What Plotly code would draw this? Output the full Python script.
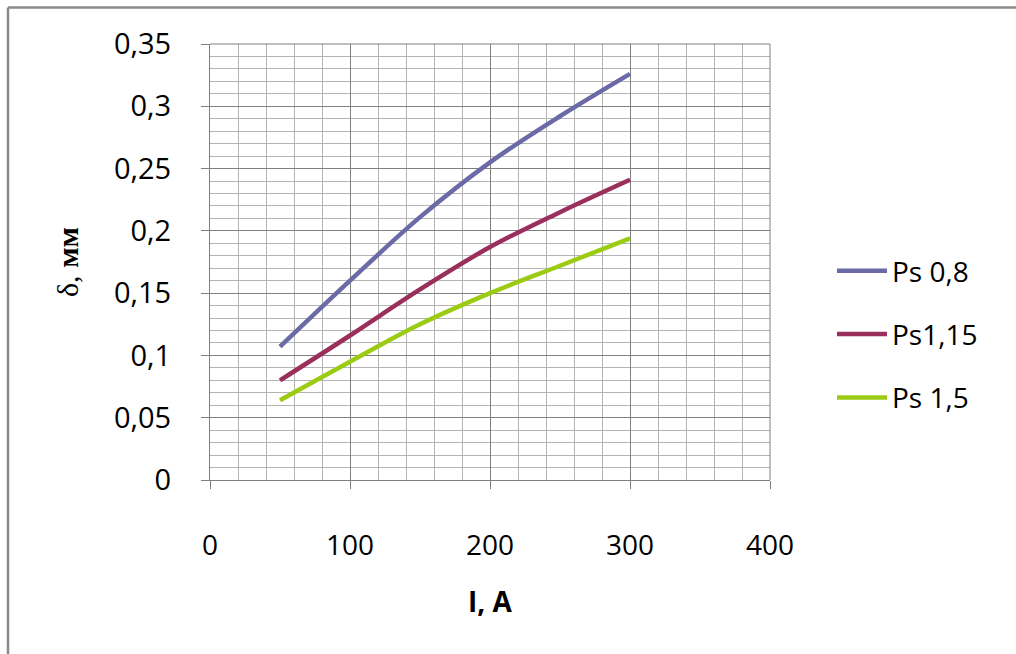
import plotly.graph_objects as go

current_A = [50, 100, 150, 200, 250, 300]
ps_08 = [0.107, 0.160, 0.211, 0.255, 0.292, 0.326]
ps_115 = [0.080, 0.116, 0.153, 0.187, 0.215, 0.241]
ps_15 = [0.064, 0.095, 0.125, 0.150, 0.172, 0.194]

series_names = ["Ps 0,8", "Ps1,15", "Ps 1,5"]
series_colors = ["#6A6AA6", "#9A2F5C", "#9CCB14"]
x_ticks = [0, 100, 200, 300, 400]
y_ticks = [0, 0.05, 0.1, 0.15, 0.2, 0.25, 0.3, 0.35]
y_tick_labels = ["0", "0,05", "0,1", "0,15", "0,2", "0,25", "0,3", "0,35"]

W, H = 1016, 654
L, R, T, B = 210, 246, 44, 174
pw, ph = W - L - R, H - T - B

fig = go.Figure()
for i, (name, ys, col) in enumerate(zip(series_names, [ps_08, ps_115, ps_15], series_colors)):
    fig.add_trace(go.Scatter(
        x=current_A, y=ys, mode="lines", name=name,
        line=dict(color=col, width=4.5, shape="spline", smoothing=1.0),
        legendgroup=f"g{i}",
    ))

def px2paper_x(p):
    return (p - L) / pw

def px2paper_y(p):
    return (H - B - p) / ph

fig.update_layout(
    width=W, height=H,
    margin=dict(l=L, r=R, t=T, b=B),
    paper_bgcolor="white", plot_bgcolor="white",
    font=dict(family="Open Sans", color="#000000"),
    showlegend=True,
    legend=dict(
        x=px2paper_x(832), y=px2paper_y(246), xanchor="left", yanchor="top",
        font=dict(family="Open Sans", size=28, color="#000"),
        tracegroupgap=24, itemwidth=50, bgcolor="rgba(0,0,0,0)",
    ),
    xaxis=dict(
        range=[0, 400], tickvals=x_ticks, ticktext=[str(v) for v in x_ticks],
        showgrid=True, gridcolor="#808080", gridwidth=1,
        minor=dict(dtick=20, showgrid=True, gridcolor="#b4b4b4", gridwidth=1, ticks=""),
        showline=True, linecolor="#808080", linewidth=1,
        ticks="outside", ticklen=8, tickcolor="#808080",
        ticklabelstandoff=32,
        tickfont=dict(family="Open Sans", size=28, color="#000"),
        zeroline=False, mirror=False,
        title=dict(text="<b>I, A</b>", font=dict(family="Open Sans", size=28, color="#000"), standoff=30),
    ),
    yaxis=dict(
        range=[0, 0.35], tickvals=y_ticks, ticktext=y_tick_labels,
        showgrid=True, gridcolor="#808080", gridwidth=1,
        minor=dict(dtick=0.01, showgrid=True, gridcolor="#b4b4b4", gridwidth=1, ticks=""),
        showline=True, linecolor="#808080", linewidth=1,
        ticks="outside", ticklen=8, tickcolor="#808080",
        ticklabelstandoff=24,
        tickfont=dict(family="Open Sans", size=29, color="#000"),
        zeroline=False,
        title=dict(text="δ, <b>мм</b>", font=dict(family="Liberation Serif", size=30, color="#000"), standoff=26),
    ),
    shapes=[
        dict(type="line", xref="paper", yref="paper",
             x0=px2paper_x(8), x1=px2paper_x(1016), y0=px2paper_y(7.5), y1=px2paper_y(7.5),
             line=dict(color="#8a8a8a", width=2.5)),
        dict(type="line", xref="paper", yref="paper",
             x0=px2paper_x(8), x1=px2paper_x(8), y0=px2paper_y(7.5), y1=px2paper_y(654),
             line=dict(color="#8a8a8a", width=2.5)),
        dict(type="line", xref="paper", yref="paper",
             x0=1, x1=1, y0=0, y1=1, line=dict(color="#808080", width=1)),
        dict(type="line", xref="paper", yref="paper",
             x0=0, x1=1, y0=1, y1=1, line=dict(color="#808080", width=1)),
    ],
)

fig.write_html("out.html")
